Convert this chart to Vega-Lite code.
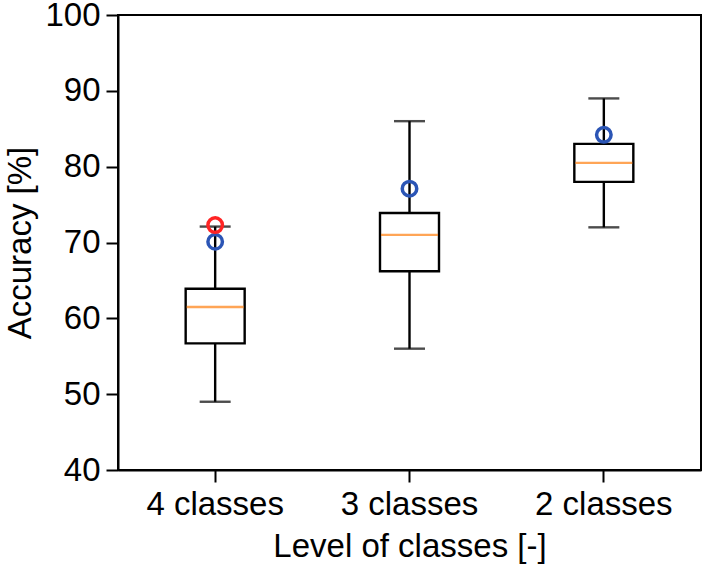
{
  "$schema": "https://vega.github.io/schema/vega-lite/v6.json",
  "width": 583,
  "height": 455,
  "autosize": {"type": "none"},
  "padding": {"left": 118, "top": 15, "right": 6, "bottom": 94},
  "background": "white",
  "config": {
    "view": {"stroke": "black", "strokeWidth": 2},
    "font": "Liberation Sans",
    "axis": {
      "domainColor": "black", "domainWidth": 2,
      "tickColor": "black", "tickWidth": 2, "tickSize": 12,
      "labelColor": "black", "labelFontSize": 33, "labelFont": "Liberation Sans",
      "titleColor": "black", "titleFontSize": 33, "titleFont": "Liberation Sans", "titleFontWeight": "normal",
      "grid": false
    }
  },
  "datasets": {
    "boxes": [
      {"cls": "4 classes", "lower": 49.0, "q1": 56.7, "median": 61.5, "q3": 63.9, "upper": 72.1},
      {"cls": "3 classes", "lower": 56.0, "q1": 66.2, "median": 71.0, "q3": 73.9, "upper": 86.0},
      {"cls": "2 classes", "lower": 72.0, "q1": 78.0, "median": 80.5, "q3": 83.0, "upper": 89.0}
    ],
    "marks": [
      {"cls": "4 classes", "series": "B", "value": 70.1},
      {"cls": "3 classes", "series": "B", "value": 77.1},
      {"cls": "2 classes", "series": "B", "value": 84.2},
      {"cls": "4 classes", "series": "A", "value": 72.3}
    ]
  },
  "encoding": {
    "x": {
      "field": "cls", "type": "nominal",
      "sort": ["4 classes", "3 classes", "2 classes"],
      "scale": {"paddingInner": 0, "paddingOuter": 0},
      "axis": {"title": "Level of classes [-]", "labelAngle": 0, "labelPadding": 6, "titlePadding": 9}
    }
  },
  "layer": [
    {
      "data": {"name": "boxes"},
      "mark": {"type": "rule", "color": "black", "strokeWidth": 2.4},
      "encoding": {
        "y": {"field": "lower", "type": "quantitative",
              "scale": {"domain": [40, 100], "nice": false, "zero": false},
              "axis": {"title": "Accuracy [%]", "values": [40, 50, 60, 70, 80, 90, 100], "labelPadding": 6, "titlePadding": 7}},
        "y2": {"field": "q1"}
      }
    },
    {
      "data": {"name": "boxes"},
      "mark": {"type": "rule", "color": "black", "strokeWidth": 2.4},
      "encoding": {
        "y": {"field": "q3", "type": "quantitative"},
        "y2": {"field": "upper"}
      }
    },
    {
      "data": {"name": "boxes"},
      "mark": {"type": "tick", "color": "black", "thickness": 2.4, "size": 31},
      "encoding": {"y": {"field": "lower", "type": "quantitative"}}
    },
    {
      "data": {"name": "boxes"},
      "mark": {"type": "tick", "color": "black", "thickness": 2.4, "size": 31},
      "encoding": {"y": {"field": "upper", "type": "quantitative"}}
    },
    {
      "data": {"name": "boxes"},
      "mark": {"type": "bar", "width": 59, "fill": "transparent", "stroke": "black", "strokeWidth": 2.4},
      "encoding": {
        "y": {"field": "q1", "type": "quantitative"},
        "y2": {"field": "q3"}
      }
    },
    {
      "data": {"name": "boxes"},
      "mark": {"type": "tick", "color": "#ff7f0e", "thickness": 2.4, "size": 57},
      "encoding": {"y": {"field": "median", "type": "quantitative"}}
    },
    {
      "data": {"name": "marks"},
      "mark": {"type": "point", "shape": "circle", "filled": false, "size": 210, "strokeWidth": 3.5, "opacity": 1},
      "encoding": {
        "y": {"field": "value", "type": "quantitative"},
        "color": {"field": "series", "type": "nominal",
                  "scale": {"domain": ["B", "A"], "range": ["#2b55b5", "#ff2424"]}, "legend": null},
        "order": {"field": "series", "sort": "descending"}
      }
    }
  ]
}
